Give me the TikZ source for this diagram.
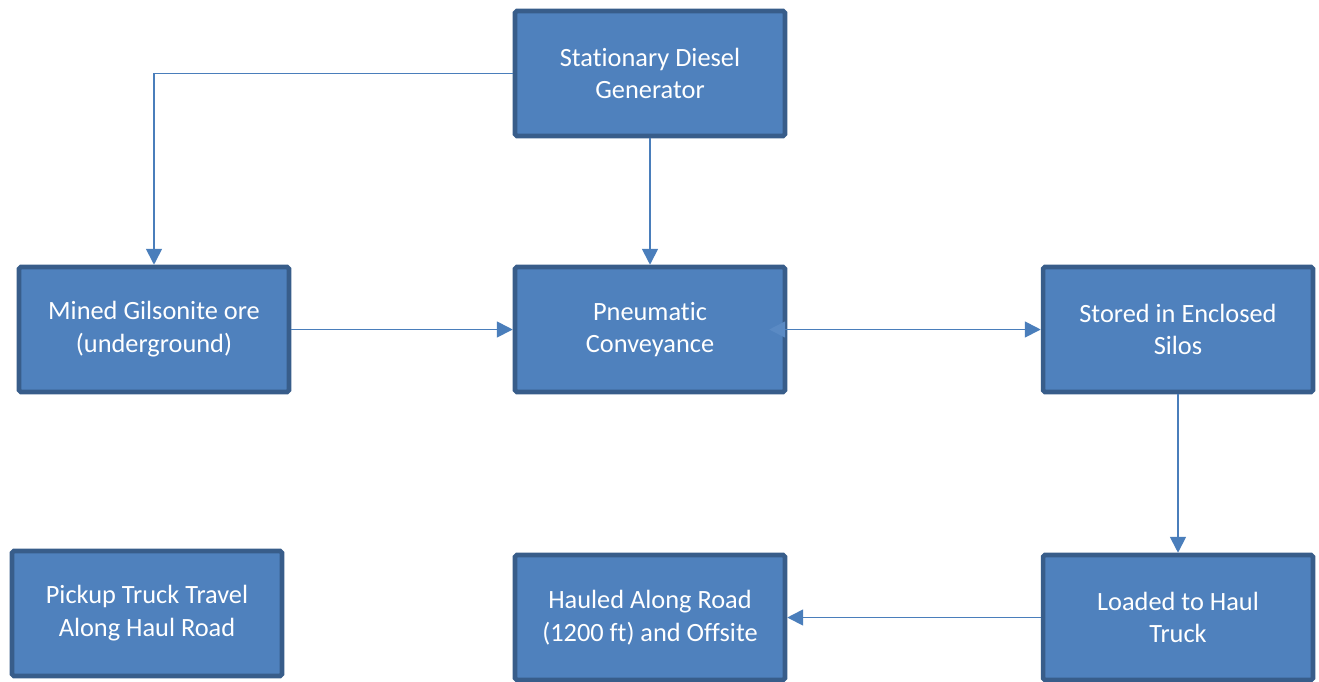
\documentclass[tikz,border=0pt]{standalone}
\usepackage{fontspec}
\setmainfont{Carlito}[Ligatures={NoCommon}]
\usetikzlibrary{arrows.meta}

\definecolor{boxfill}{HTML}{4F81BD}
\definecolor{boxline}{HTML}{385D8A}
\definecolor{arrowline}{HTML}{4A7EBB}
\definecolor{faintline}{HTML}{5A8AC4}

\tikzset{
    stepbox/.style={draw=boxline, fill=boxfill, line width=2.6pt, rounded corners=1pt,
        minimum width=5.4cm, minimum height=2.5cm, text=white, align=center,
        font=\fontsize{15}{18.7}\selectfont},
    conn/.style={draw=arrowline, line width=1pt, -{Triangle[length=9pt, width=9pt]}}
}

\begin{document}
\begin{tikzpicture}[x=0.02cm, y=-0.02cm]
        \useasboundingbox (0, 0) rectangle (1319, 681);
        \node[stepbox] (gen) at (650, 73.5) {Stationary Diesel\\Generator};
        \node[stepbox] (ore) at (154, 329.5) {Mined Gilsonite ore\\(underground)};
        \node[stepbox] (conv) at (650, 329.5) {Pneumatic\\Conveyance};
        \node[stepbox] (silos) at (1178, 329.5) {Stored in Enclosed\\Silos};
        \node[stepbox] (pickup) at (147, 613.5) {Pickup Truck Travel\\Along Haul Road};
        \node[stepbox] (hauled) at (650, 617.5) {Hauled Along Road\\(1200 ft) and Offsite};
        \node[stepbox] (loaded) at (1178, 617.5) {Loaded to Haul\\Truck};

        \draw[conn] (gen.west) -| (ore.north);
        \draw[conn] (gen.south) -- (conv.north);
        \draw[conn] (ore.east) -- (conv.west);
        \draw[conn, {Triangle[length=9pt, width=9pt, color=faintline]}-{Triangle[length=9pt, width=9pt]}] ([xshift=-0.36cm]conv.east) -- (silos.west);
        \draw[conn] (silos.south) -- (loaded.north);
        \draw[conn] (loaded.west) -- (hauled.east);
    \end{tikzpicture}
\end{document}
